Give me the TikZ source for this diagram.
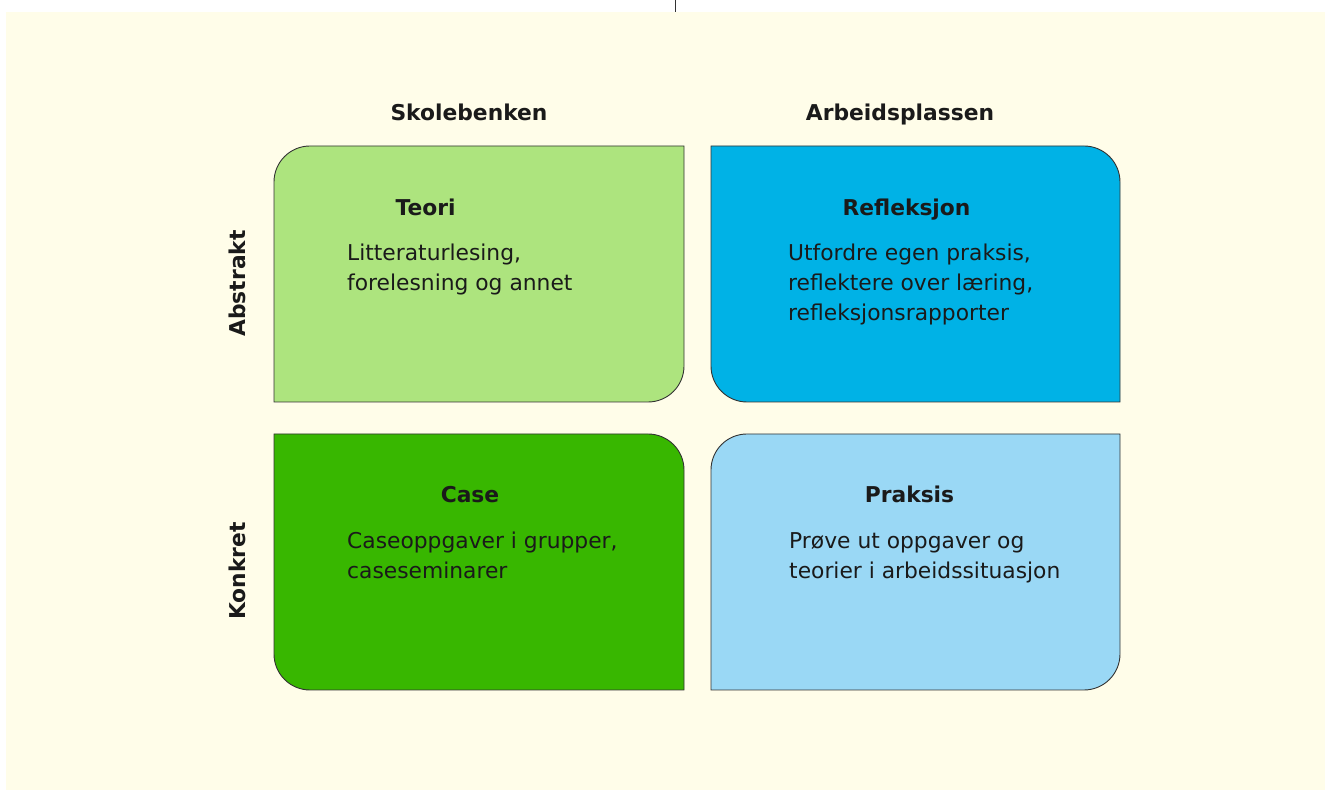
\documentclass[tikz,border=0pt]{standalone}
\usepackage{fontspec}
\setmainfont{DejaVu Sans}
\definecolor{bgcream}{HTML}{FFFDE9}
\definecolor{teoricol}{HTML}{ADE47E}
\definecolor{reflcol}{HTML}{00B2E6}
\definecolor{casecol}{HTML}{38B700}
\definecolor{prakcol}{HTML}{9AD8F5}
\definecolor{inkcol}{HTML}{1A1A1A}
\definecolor{edgecol}{HTML}{333333}
\begin{document}
\begin{tikzpicture}[x=1pt,y=1pt,
  quad/.style={draw=edgecol, line width=0.9pt},
  colhead/.style={font=\fontsize{21.8}{26}\selectfont\bfseries, text=inkcol, inner sep=0pt, anchor=base},
  rowhead/.style={font=\fontsize{21.8}{26}\selectfont\bfseries, text=inkcol, inner sep=0pt, anchor=base, rotate=90},
  qtitle/.style={font=\fontsize{21.8}{26}\selectfont\bfseries, text=inkcol, inner sep=0pt, anchor=base},
  qbody/.style={font=\fontsize{21.8}{30}\selectfont, text=inkcol, inner sep=0pt, anchor=base west, align=left}]
\useasboundingbox (0,0) rectangle (1331,791);
\fill[bgcream] (6,1) rectangle (1325,779);
\coordinate (tickA) at (675,791);
\coordinate (tickB) at (675,779);
\draw[edgecol, line width=0.8pt] (tickA) -- (tickB);
% Teori
\draw[quad, fill=teoricol] (274,389) -- (274,609) arc[start angle=180,end angle=90,radius=36] -- (684,645) -- (684,425) arc[start angle=0,end angle=-90,radius=36] -- cycle;
% Refleksjon
\draw[quad, fill=reflcol] (711,645) -- (1084,645) arc[start angle=90,end angle=0,radius=36] -- (1120,389) -- (747,389) arc[start angle=270,end angle=180,radius=36] -- cycle;
% Case
\draw[quad, fill=casecol] (274,357) -- (648,357) arc[start angle=90,end angle=0,radius=36] -- (684,101) -- (310,101) arc[start angle=270,end angle=180,radius=36] -- cycle;
% Praksis
\draw[quad, fill=prakcol] (711,101) -- (711,321) arc[start angle=180,end angle=90,radius=36] -- (1120,357) -- (1120,137) arc[start angle=0,end angle=-90,radius=36] -- cycle;
% headings
\node[colhead] (skole) at (469,670) {Skolebenken};
\node[colhead] (arbeid) at (900,670) {Arbeidsplassen};
\node[rowhead] (abstrakt) at (245,507.5) {Abstrakt};
\node[rowhead] (konkret) at (245,220) {Konkret};
% quadrant texts (base anchor = baseline of the last line)
\node[qtitle] (teori) at (425.5,575) {Teori};
\node[qbody] (teoritxt) at (347,500) {Litteraturlesing,\\forelesning og annet};
\node[qtitle] (refl) at (906.5,575) {Refleksjon};
\node[qbody] (refltxt) at (788,470) {Utfordre egen praksis,\\reflektere over læring,\\refleksjonsrapporter};
\node[qtitle] (case) at (470,288) {Case};
\node[qbody] (casetxt) at (347,212) {Caseoppgaver i grupper,\\caseseminarer};
\node[qtitle] (praksis) at (909.5,288) {Praksis};
\node[qbody] (praksistxt) at (789,212) {Prøve ut oppgaver og\\teorier i arbeidssituasjon};
\end{tikzpicture}
\end{document}
